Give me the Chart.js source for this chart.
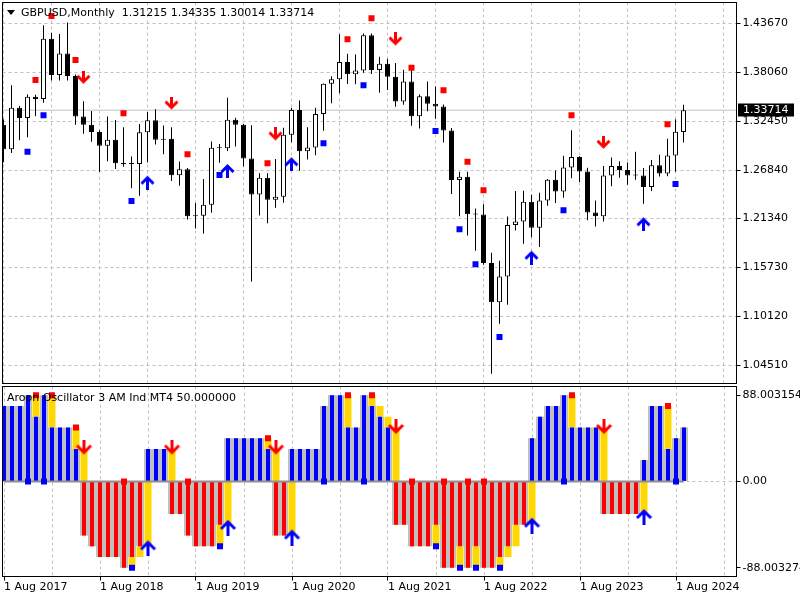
<!DOCTYPE html>
<html><head><meta charset="utf-8">
<script src="https://cdn.jsdelivr.net/npm/chart.js@4.4.1/dist/chart.umd.min.js"></script>
<style>
html,body{margin:0;padding:0;background:#fff;width:800px;height:600px;overflow:hidden}
canvas{position:absolute;left:0}
#c1{top:0}#c2{top:385px}
.t{position:absolute;font-family:'DejaVu Sans';font-size:11px;color:#000;white-space:pre;line-height:13px}
#tri{position:absolute;left:7px;top:10px;width:0;height:0;border-left:4px solid transparent;border-right:4px solid transparent;border-top:5px solid #000}
</style></head><body>
<canvas id="c1" width="800" height="385"></canvas>
<canvas id="c2" width="800" height="215"></canvas>
<div id="tri"></div>
<div class="t" id="title" style="left:21px;top:6px"></div>
<div class="t" id="osclabel" style="left:7px;top:391px"></div>
<script>
// ---- GBPUSD monthly candles, Aug 2017 .. Sep 2024 ----
const open = [1.3205,1.2925,1.3399,1.3282,1.3525,
 1.3500,1.4190,1.3774,1.4022,1.3764,1.3298,1.3205,1.3121,1.2964,1.3032,1.2764,1.2755,
 1.2754,1.3118,1.3256,1.3032,1.3045,1.2625,1.2693,1.2156,1.2161,1.2289,1.2941,1.2935,
 1.3263,1.3204,1.2817,1.2406,1.2598,1.2346,1.2380,1.3091,1.3372,1.2902,1.2944,1.3327,
 1.3673,1.3725,1.3924,1.3782,1.3827,1.4231,1.3832,1.3903,1.3754,1.3472,1.3700,1.3301,
 1.3531,1.3445,1.3413,1.3139,1.2570,1.2608,1.2179,1.2175,1.1620,1.1170,1.1465,1.2056,
 1.2097,1.2322,1.2024,1.2335,1.2573,1.2439,1.2714,1.2835,1.2669,1.2200,1.2155,1.2623,
 1.2731,1.2686,1.2624,1.2623,1.2491,1.2740,1.2645,1.2852,1.31215];
const high = [1.3267,1.3657,1.3420,1.3550,1.3549,
 1.4346,1.4260,1.4245,1.4377,1.3780,1.3473,1.3363,1.3140,1.3298,1.3259,1.3175,1.2840,
 1.3214,1.3350,1.3381,1.3196,1.3176,1.2784,1.2708,1.2309,1.2582,1.3013,1.2985,1.3514,
 1.3285,1.3212,1.3200,1.2648,1.2648,1.2813,1.3171,1.3395,1.3483,1.3177,1.3399,1.3676,
 1.3759,1.4241,1.4017,1.4009,1.4250,1.4249,1.3984,1.3959,1.3913,1.3834,1.3835,1.3550,
 1.3700,1.3644,1.3437,1.3167,1.2667,1.2666,1.2246,1.2294,1.1738,1.1645,1.2154,1.2446,
 1.2448,1.2401,1.2424,1.2584,1.2680,1.2848,1.3142,1.2842,1.2713,1.2337,1.2733,1.2828,
 1.2786,1.2773,1.2894,1.2709,1.2801,1.2860,1.3044,1.3266,1.34335];
const low = [1.2774,1.2880,1.3027,1.3061,1.3302,
 1.3456,1.3712,1.3711,1.3712,1.3204,1.3100,1.3010,1.2662,1.2786,1.2696,1.2723,1.2477,
 1.2390,1.2773,1.2977,1.2866,1.2559,1.2506,1.2119,1.2015,1.1959,1.2196,1.2769,1.2904,
 1.2954,1.2725,1.1409,1.2165,1.2076,1.2252,1.2311,1.3005,1.2676,1.2806,1.2854,1.3135,
 1.3452,1.3566,1.3670,1.3669,1.3800,1.3787,1.3572,1.3602,1.3412,1.3434,1.3194,1.3161,
 1.3358,1.3273,1.3000,1.2411,1.2155,1.1934,1.1760,1.1600,1.0350,1.0924,1.1142,1.1992,
 1.1841,1.1915,1.1803,1.2275,1.2308,1.2369,1.2591,1.2547,1.2111,1.2037,1.2096,1.2500,
 1.2597,1.2518,1.2575,1.2299,1.2446,1.2612,1.2615,1.2665,1.30014];
const close = [1.2925,1.3399,1.3282,1.3525,1.3500,
 1.4190,1.3774,1.4022,1.3764,1.3298,1.3205,1.3121,1.2964,1.3032,1.2764,1.2755,1.2754,
 1.3118,1.3256,1.3032,1.3045,1.2625,1.2693,1.2156,1.2161,1.2289,1.2941,1.2935,1.3263,
 1.3204,1.2817,1.2406,1.2598,1.2346,1.2380,1.3091,1.3372,1.2902,1.2944,1.3327,1.3673,
 1.3725,1.3924,1.3782,1.3827,1.4231,1.3832,1.3903,1.3754,1.3472,1.3700,1.3301,1.3531,
 1.3445,1.3413,1.3139,1.2570,1.2608,1.2179,1.2175,1.1620,1.1170,1.1465,1.2056,1.2097,
 1.2322,1.2024,1.2335,1.2573,1.2439,1.2714,1.2835,1.2669,1.2200,1.2155,1.2623,1.2731,
 1.2686,1.2624,1.2623,1.2491,1.2740,1.2645,1.2852,1.3125,1.33714];

// ---- Aroon oscillator values per bar ----
const osc = [70,70,70,80,60,80,50,50,50,30,
 -50,-60,-70,-70,-70,-80,-70,-60,30,30,
 30,-30,-30,-50,-60,-60,-60,-40,40,40,
 40,40,40,30,-50,-50,30,30,30,30,
 70,80,80,50,50,80,70,60,50,-40,
 -40,-60,-60,-60,-40,-80,-80,-60,-80,-60,
 -80,-80,-70,-60,-40,-40,40,60,70,70,
 80,50,50,50,50,-30,-30,-30,-30,-30,
 20,70,70,30,40,50];

// ---- signal markers ----
const redSqIdx   = [4,6,9,15,23,33,43,46,51,55,58,60,71,83];
const redSqPrice = [1.3717,1.4451,1.3946,1.3336,1.2866,1.2763,1.4184,1.4424,1.3858,1.3599,1.2781,1.2453,1.3313,1.3210];
const redSqOsc   = [80,80,50,0,0,40,80,80,0,0,0,0,80,70];
const blueSqIdx   = [3,5,16,27,40,45,54,57,59,62,70,84];
const blueSqPrice = [1.2896,1.3313,1.2331,1.2628,1.2992,1.3656,1.3133,1.2006,1.1605,1.0772,1.2224,1.2525];
const blueSqOsc   = [0,0,-80,-60,0,0,-60,-80,-80,-80,0,0];
const downIdx   = [10,21,34,49,75];
const downPrice = [1.3737,1.3442,1.3087,1.4176,1.2992];
const downOsc   = [31,31,31,50,50];
const upIdx   = [18,28,36,66,80];
const upPrice = [1.2552,1.2686,1.2763,1.1692,1.2075];
const upOsc   = [-61,-42,-51,-40,-32];

// ---- axis ticks ----
const priceTicks = [1.43670,1.38060,1.32450,1.26840,1.21340,1.15730,1.10120,1.04510];
const gridIdx = [0,6,12,18,24,30,36,42,48,54,60,66,72,78,84,90];
const dateTickIdx = [0,12,24,36,48,60,72,84];
const dateTickLabels = ['1 Aug 2017','1 Aug 2018','1 Aug 2019','1 Aug 2020','1 Aug 2021','1 Aug 2022','1 Aug 2023','1 Aug 2024'];
const oscTickVals = [80,0,-80];
const oscTickLabels = ['88.003154','0.00','-88.003274'];

const N = open.length;
const last = N - 1;
document.getElementById('title').textContent =
  'GBPUSD,Monthly  ' + [open[last],high[last],low[last],close[last]].map(v=>v.toFixed(5)).join(' ');
document.getElementById('osclabel').textContent = 'Aroon Oscillator 3 AM Ind MT4 ' + osc[last].toFixed(6);

Chart.defaults.font.family = "'DejaVu Sans'";
Chart.defaults.font.size = 11;
Chart.defaults.color = '#000';

const X_MIN = -0.125, X_MAX = X_MIN + 91.75;
const XB_MIN = -0.1875, XB_MAX = XB_MIN + 91.75;
const Y_MAX = 1.460537, Y_MIN = 1.023911;
const OSC_MIN = -88.003274, OSC_MAX = 88.003154;

function makeArrow(color, up, w, h){
  const c = document.createElement('canvas'); c.width = w; c.height = h;
  const g = c.getContext('2d');
  const cx = w / 2, arm = (w - 3) / 2, tip = h - 4;
  g.strokeStyle = color; g.lineWidth = 3; g.lineJoin = 'miter'; g.lineCap = 'butt';
  if (up) { g.translate(0, h); g.scale(1, -1); }
  g.beginPath(); g.moveTo(cx, 0); g.lineTo(cx, tip); g.stroke();
  g.beginPath(); g.moveTo(cx - arm, tip - arm); g.lineTo(cx, tip); g.lineTo(cx + arm, tip - arm); g.stroke();
  return c;
}
const downArrow = makeArrow('#ff0000', false, 15, 15);
const upArrow = makeArrow('#0000ff', true, 15, 16);
const downArrowB = makeArrow('#ff0000', false, 17, 17);
const upArrowB = makeArrow('#0000ff', true, 17, 18);

const framePlugin = {
  id: 'frame',
  afterDraw(chart){
    const {ctx, chartArea: a} = chart;
    ctx.save(); ctx.strokeStyle = '#000'; ctx.lineWidth = 1;
    ctx.strokeRect(a.left, a.top, a.right - a.left, a.bottom - a.top);
    ctx.restore();
  }
};
const priceBox = {
  id: 'priceBox',
  afterDraw(chart){
    const {ctx, chartArea: a} = chart;
    const y = chart.scales.y.getPixelForValue(close[last]);
    ctx.save();
    ctx.fillStyle = '#000';
    ctx.fillRect(a.right + 1.5, Math.round(y) - 6.5, 56, 13);
    ctx.fillStyle = '#fff'; ctx.font = "11px 'DejaVu Sans'";
    ctx.textBaseline = 'middle'; ctx.textAlign = 'left';
    ctx.fillText(close[last].toFixed(5), a.right + 6.5, Math.round(y));
    ctx.restore();
  }
};

const noPadX = s => { s.paddingLeft = 0; s.paddingRight = 0; };
const noPadY = s => { s.paddingTop = 0; s.paddingBottom = 0; };

const idx = open.map((_, i) => i);
const pts = (ix, vals) => ix.map((x, k) => ({x, y: vals[k]}));
const marker = (data, style, color, order) => ({
  type: 'line', data, showLine: false, pointStyle: style,
  pointRadius: style === 'rect' ? 4.243 : 8, pointHoverRadius: 0,
  pointBackgroundColor: color, pointBorderWidth: 0, order
});

new Chart(document.getElementById('c1'), {
  type: 'bar',
  data: { datasets: [
    marker(pts(redSqIdx, redSqPrice), 'rect', '#ff0000', 0),
    marker(pts(blueSqIdx, blueSqPrice), 'rect', '#0000ff', 0),
    marker(pts(downIdx, downPrice), downArrow, '#ff0000', 0),
    marker(pts(upIdx, upPrice), upArrow, '#0000ff', 0),
    { data: idx.map(i => ({x: i, y: [open[i], close[i]]})),
      backgroundColor: idx.map(i => close[i] >= open[i] ? '#ffffff' : '#000000'),
      borderColor: '#000', borderWidth: 1, borderSkipped: false, barThickness: 5,
      minBarLength: 1, inflateAmount: 0, grouped: false, order: 1 },
    { data: idx.map(i => ({x: i, y: [low[i], high[i]]})),
      backgroundColor: '#000', barThickness: 1, inflateAmount: 0, grouped: false, order: 2 },
    { type: 'line', data: [{x: X_MIN, y: close[last]}, {x: X_MAX, y: close[last]}],
      borderColor: '#c0c0c0', borderWidth: 1, pointRadius: 0, order: 3 }
  ]},
  options: {
    responsive: false, animation: false, events: [],
    layout: { autoPadding: false, padding: {left: 2.5, top: 2.5, right: 0, bottom: 1.5} },
    plugins: { legend: {display: false}, tooltip: {enabled: false} },
    scales: {
      x: { type: 'linear', min: X_MIN, max: X_MAX, offset: false,
        afterBuildTicks: s => { s.ticks = gridIdx.map(v => ({value: v})); },
        ticks: {display: false}, grid: {color: '#c0c0c0', drawTicks: false, offset: false},
        border: {display: false, dash: [3, 3]}, afterFit: s => { s.height = 0; noPadX(s); } },
      y: { type: 'linear', position: 'right', min: Y_MIN, max: Y_MAX, beginAtZero: false,
        afterBuildTicks: s => { s.ticks = priceTicks.map(v => ({value: v})); },
        ticks: {callback: v => v.toFixed(5), padding: 2, autoSkip: false},
        grid: {color: '#c0c0c0', tickColor: '#000', tickLength: 4},
        border: {display: false, dash: [3, 3]}, afterFit: s => { s.width = 63.5; noPadY(s); } }
    }
  },
  plugins: [framePlugin, priceBox]
});

const yellowData = [];
for (let i = 1; i < N; i++) if (osc[i] !== osc[i-1]) yellowData.push({x: i, y: [osc[i-1], osc[i]]});

new Chart(document.getElementById('c2'), {
  type: 'bar',
  data: { datasets: [
    marker(pts(redSqIdx, redSqOsc), 'rect', '#ff0000', 0),
    marker(pts(blueSqIdx, blueSqOsc), 'rect', '#0000ff', 0),
    marker(pts(downIdx, downOsc), downArrowB, '#ff0000', 0),
    marker(pts(upIdx, upOsc), upArrowB, '#0000ff', 0),
    { type: 'line', data: [{x: 0, y: 0}, {x: last, y: 0}], borderColor: '#909090',
      borderWidth: 2, pointRadius: 0, order: 1 },
    { data: idx.map(i => ({x: i, y: osc[i]})),
      backgroundColor: idx.map(i => osc[i] >= 0 ? '#0000ff' : '#ff0000'),
      barThickness: 4, inflateAmount: 0, grouped: false, order: 2 },
    { data: idx.map(i => ({x: i, y: osc[i]})), backgroundColor: '#c0c0c0',
      barThickness: 8, inflateAmount: 0, grouped: false, order: 3 },
    { data: yellowData, backgroundColor: '#ffd700', barThickness: 7,
      inflateAmount: 0, grouped: false, order: 4 }
  ]},
  options: {
    responsive: false, animation: false, events: [],
    layout: { autoPadding: false, padding: {left: 2.5, top: 1.5, right: 0, bottom: 0} },
    plugins: { legend: {display: false}, tooltip: {enabled: false} },
    scales: {
      x: { type: 'linear', min: XB_MIN, max: XB_MAX, offset: false,
        afterBuildTicks: s => { s.ticks = gridIdx.map(v => ({value: v})); },
        ticks: { callback: v => { const k = dateTickIdx.indexOf(v); return k >= 0 ? dateTickLabels[k] : ''; },
          align: 'start', autoSkip: false, maxRotation: 0, padding: 0 },
        grid: { color: '#c0c0c0', tickLength: 4, offset: false,
          tickColor: c => (c.tick && dateTickIdx.includes(c.tick.value)) ? '#000' : 'rgba(0,0,0,0)' },
        border: {display: false, dash: [3, 3]}, afterFit: s => { s.height = 23.5; noPadX(s); } },
      y: { type: 'linear', position: 'right', min: OSC_MIN, max: OSC_MAX,
        afterBuildTicks: s => { s.ticks = oscTickVals.map(v => ({value: v})); },
        ticks: { callback: v => oscTickLabels[oscTickVals.indexOf(v)], padding: 2, autoSkip: false },
        grid: { color: c => (c.tick && c.tick.value === 0) ? '#c0c0c0' : 'rgba(0,0,0,0)',
          tickColor: '#000', tickLength: 4 },
        border: {display: false, dash: [3, 3]}, afterFit: s => { s.width = 63.5; noPadY(s); } }
    }
  },
  plugins: [framePlugin]
});
</script>
</body></html>
